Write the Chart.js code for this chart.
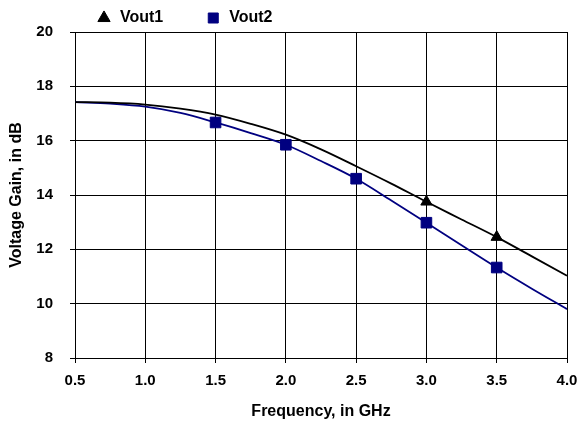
<!DOCTYPE html>
<html>
<head>
<meta charset="utf-8">
<script src="https://cdn.jsdelivr.net/npm/chart.js@4"></script>
<style>
  body { margin: 0; background: #fff; }
  #wrap { width: 579px; height: 421px; }
</style>
</head>
<body>
<div id="wrap"><canvas id="gain"></canvas></div>
<script>
var freq  = [0.5, 0.75, 1.0, 1.25, 1.5, 1.75, 2.0, 2.25, 2.5, 2.75, 3.0, 3.25, 3.5, 3.75, 4.0];
var vout1 = [17.42, 17.40, 17.33, 17.18, 16.96, 16.62, 16.22, 15.68, 15.06, 14.42, 13.75, 13.10, 12.45, 11.74, 11.03];
var vout2 = [17.42, 17.36, 17.25, 17.02, 16.67, 16.28, 15.85, 15.25, 14.60, 13.80, 12.98, 12.15, 11.33, 10.55, 9.80];
// markers shown only at these frequencies
var vout1Marks = [3.0, 3.5];
var vout2Marks = [1.5, 2.0, 2.5, 3.0, 3.5];
var yTicks = [8, 10, 12, 14, 16, 18, 20];

function pts(ys) {
  return freq.map(function (f, i) { return { x: f, y: ys[i] }; });
}
function radii(marks, r) {
  return freq.map(function (f) { return marks.indexOf(f) >= 0 ? r : 0; });
}

var LEG_PAD = 42;
// the legend sits left of centre with a wide gap between items
var legendShift = {
  id: 'legendShift',
  afterLayout: function (chart) {
    var lg = chart.legend;
    var w = lg.right - lg.left;
    lg.left = 96 - LEG_PAD;
    lg.right = lg.left + w;
    lg.top = 18 - LEG_PAD - 8;
  }
};

var ctx = document.getElementById('gain').getContext('2d');
var myChart = new Chart(ctx, {
  type: 'line',
  data: {
    datasets: [{
      label: 'Vout1',
      data: pts(vout1),
      borderColor: '#000000',
      backgroundColor: '#000000',
      borderWidth: 1.8,
      pointStyle: 'triangle',
      pointRadius: radii(vout1Marks, 6.5),
      pointBorderWidth: 1,
      cubicInterpolationMode: 'monotone'
    }, {
      label: 'Vout2',
      data: pts(vout2),
      borderColor: '#000080',
      backgroundColor: '#000080',
      borderWidth: 1.8,
      pointStyle: 'rect',
      pointRadius: radii(vout2Marks, 7.5),
      pointBorderWidth: 1,
      cubicInterpolationMode: 'monotone'
    }]
  },
  options: {
    responsive: true,
    maintainAspectRatio: false,
    animation: false,
    layout: { padding: { left: 7, right: 1, top: 4, bottom: 0 } },
    plugins: {
      tooltip: { enabled: false },
      legend: {
        position: 'top',
        align: 'start',
        maxHeight: 28,
        labels: {
          usePointStyle: true,
          boxHeight: 10,
          padding: LEG_PAD,
          color: '#000',
          font: { family: 'Liberation Sans', size: 16, weight: 'bold' }
        }
      }
    },
    scales: {
      x: {
        type: 'linear',
        min: 0.5,
        max: 4.0,
        afterFit: function (axis) {
          axis.height = 63;
          axis.paddingLeft = 0;
          axis.paddingRight = 12;
        },
        ticks: {
          stepSize: 0.5,
          color: '#000',
          padding: 9,
          font: { family: 'Liberation Sans', size: 15, weight: 'bold' },
          callback: function (v) { return v.toFixed(1); }
        },
        grid: { color: '#000', lineWidth: 1, tickLength: 5 },
        border: { color: '#000', width: 1 },
        title: {
          display: true,
          text: 'Frequency, in GHz',
          color: '#000',
          padding: { top: 10, bottom: 0 },
          font: { family: 'Liberation Sans', size: 16, weight: 'bold' }
        }
      },
      y: {
        min: 8,
        max: 20,
        afterBuildTicks: function (axis) {
          axis.ticks = yTicks.map(function (v) { return { value: v }; });
        },
        afterFit: function (axis) { axis.width = 68; },
        ticks: {
          color: '#000',
          padding: 17,
          font: { family: 'Liberation Sans', size: 15, weight: 'bold' }
        },
        grid: { color: '#000', lineWidth: 1, tickLength: 5 },
        border: { color: '#000', width: 1 },
        title: {
          display: true,
          text: 'Voltage Gain, in dB',
          color: '#000',
          padding: { top: 0, bottom: 9 },
          font: { family: 'Liberation Sans', size: 16, weight: 'bold' }
        }
      }
    }
  },
  plugins: [legendShift]
});
</script>
</body>
</html>
